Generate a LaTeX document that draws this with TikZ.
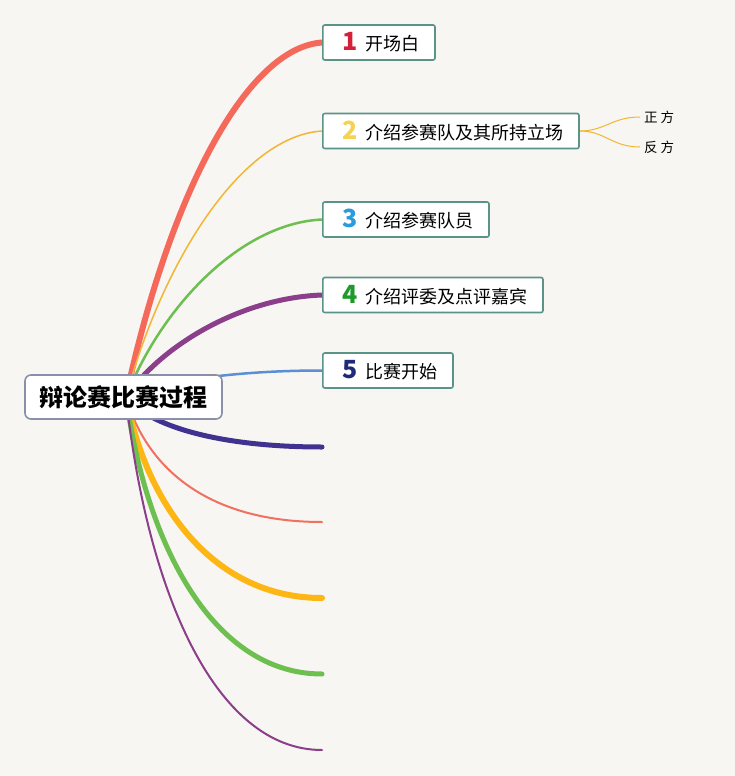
\documentclass[tikz,border=0pt]{standalone}
\usepackage{fontspec}
\newfontfamily\cjk{Noto Sans CJK SC}
\pgfdeclarelayer{back}
\pgfdeclarelayer{links}
\pgfsetlayers{back,links,main}
\definecolor{bgc}{HTML}{F7F6F2}
\definecolor{boxc}{HTML}{5A9388}
\definecolor{rootc}{HTML}{8A90AA}
\definecolor{cRed}{HTML}{F4695A}
\definecolor{cYel}{HTML}{F2B632}
\definecolor{cGrn}{HTML}{6DBF4F}
\definecolor{cPur}{HTML}{8B3F8B}
\definecolor{cBlu}{HTML}{5B8FD5}
\definecolor{cInd}{HTML}{3F3290}
\definecolor{cSal}{HTML}{F2705F}
\definecolor{cOra}{HTML}{FDB614}
\definecolor{dA}{HTML}{D42038}
\definecolor{dB}{HTML}{F5D34E}
\definecolor{dC}{HTML}{2C9BDC}
\definecolor{dD}{HTML}{1D9A2B}
\definecolor{dE}{HTML}{1F2A7A}
\newcommand\bnum[2]{{\fontsize{25}{25}\selectfont\bfseries\color{#1}#2}\kern7pt}
\tikzset{
  box/.style={draw=boxc, line width=1.6pt, fill=white, rounded corners=2pt,
    minimum height=35pt, inner xsep=0pt, inner ysep=0pt, anchor=west,
    font=\cjk\fontsize{18}{20}\selectfont},
  rootbox/.style={draw=rootc, line width=1.6pt, fill=white, rounded corners=6pt,
    minimum height=44pt, minimum width=197pt, inner sep=0pt,
    font=\cjk\bfseries\fontsize{24}{26}\selectfont},
  sub/.style={anchor=west, inner sep=0pt, font=\cjk\fontsize{13.5}{15}\selectfont},
  link/.style={line cap=round}
}
\begin{document}
\begin{tikzpicture}[x=1pt,y=-1pt]
\begin{pgfonlayer}{back}
\fill[bgc] (0,0) rectangle (735,776);
\end{pgfonlayer}
\useasboundingbox (0,0) rectangle (735,776);

\node[rootbox] (r) at (123.5,397) {辩论赛比赛过程};
\coordinate (c0) at (126,397);

\node[box] (n1) at (322,42.5) {\kern20pt\bnum{dA}{1}开场白\kern16pt};
\node[box] (n2) at (322,131) {\kern20pt\bnum{dB}{2}介绍参赛队及其所持立场\kern16pt};
\node[box] (n3) at (322,219.5) {\kern20pt\bnum{dC}{3}介绍参赛队员\kern16pt};
\node[box] (n4) at (322,295) {\kern20pt\bnum{dD}{4}介绍评委及点评嘉宾\kern16pt};
\node[box] (n5) at (322,370.5) {\kern20pt\bnum{dE}{5}比赛开始\kern16pt};

\node[sub] (s1) at (644,117) {正 方};
\node[sub] (s2) at (644,147) {反 方};

\coordinate (e6) at (322,447);
\coordinate (e7) at (322,522);
\coordinate (e8) at (322,598);
\coordinate (e9) at (322,674);
\coordinate (e10) at (322,750);

\begin{pgfonlayer}{links}
\draw[link, cRed, line width=6pt] (c0) .. controls (168,200) and (245,48) .. (n1.west);
\draw[link, cYel, line width=1.5pt] (c0) .. controls (163,260) and (242,136) .. (n2.west);
\draw[link, cGrn, line width=2.5pt] (c0) .. controls (161,307.5) and (240,223.4) .. (n3.west);
\draw[link, cPur, line width=5pt] (c0) .. controls (161,346) and (240,298) .. (n4.west);
\draw[link, cBlu, line width=2.5pt] (c0) .. controls (170,378) and (250,370.5) .. (n5.west);
\draw[link, cInd, line width=5pt] (c0) .. controls (147,424.5) and (215,447) .. (e6);
\draw[link, cSal, line width=2pt] (c0) .. controls (147,470) and (210,522) .. (e7);
\draw[link, cOra, line width=6pt] (c0) .. controls (147,507.5) and (215,598) .. (e8);
\draw[link, cGrn, line width=5pt] (c0) .. controls (147,549) and (215,674) .. (e9);
\draw[link, cPur, line width=2pt] (c0) .. controls (147,591) and (215,750) .. (e10);
\draw[cYel, line width=1pt] (n2.east) .. controls (605,131) and (612,117) .. ([xshift=-4pt]s1.west);
\draw[cYel, line width=1pt] (n2.east) .. controls (605,131) and (612,147) .. ([xshift=-4pt]s2.west);
\end{pgfonlayer}
\end{tikzpicture}
\end{document}
